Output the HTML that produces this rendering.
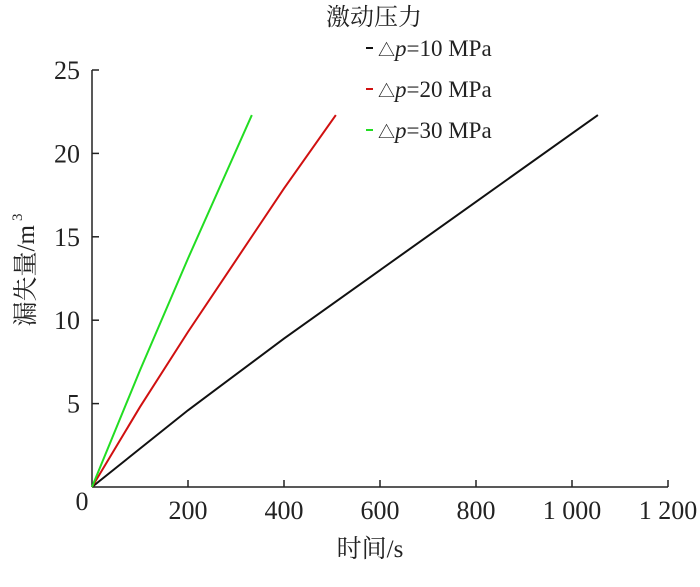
<!DOCTYPE html>
<html><head><meta charset="utf-8"><style>
body{margin:0;background:#fff}
svg text{font-family:"Liberation Serif","Noto Serif CJK SC",serif;fill:#222}
</style></head><body>
<svg id="c" width="700" height="582">
<g id="axes"></g>
<g id="series"></g>
<text x="370" y="557" font-size="25" text-anchor="middle">时间/s</text>
<text transform="translate(34,270) rotate(-90)" font-size="25" text-anchor="middle">漏失量/m<tspan dy="-12" dx="4" font-size="15">3</tspan></text>
<text x="326" y="25" font-size="24">激动压力</text>
<g id="legend"></g>
</svg>
<script>
const xTicks=[0,200,400,600,800,1000,1200];
const xTickLabels=["0","200","400","600","800","1 000","1 200"];
const yTicks=[0,5,10,15,20,25];
const seriesNames=["10","20","30"];
const seriesColors=["#111","#d01010","#22dd22"];
const t10=[0,200,400,600,800,1054];
const v10=[0,4.6,8.9,13.0,17.1,22.3];
const t20=[0,100,200,300,400,508];
const v20=[0,4.8,9.3,13.6,17.9,22.3];
const t30=[0,100,200,333];
const v30=[0,7.0,13.7,22.3];
const X=v=>92+v*(576/1200), Y=v=>487-v*(417/25);
const ns="http://www.w3.org/2000/svg";
function mk(tag,attrs,parent,txt){const e=document.createElementNS(ns,tag);for(const k in attrs)e.setAttribute(k,attrs[k]);if(txt!==undefined)e.textContent=txt;parent.appendChild(e);return e;}
const ax=document.getElementById('axes');
let e=mk('line',{x1:X(0),y1:Y(0),x2:X(1200),y2:Y(0),stroke:'#222','stroke-width':1.5},ax);

e=mk('line',{x1:X(0),y1:Y(0),x2:X(0),y2:Y(25),stroke:'#222','stroke-width':1.5},ax);

xTicks.forEach((v,i)=>{
 if(i>0){const t=mk('line',{x1:X(v),y1:Y(0),x2:X(v),y2:Y(0)-7,stroke:'#222','stroke-width':1.5},ax);
 }
 const l=mk('text',{x:i==0?X(v)-10:X(v),y:i==0?Y(0)+23:Y(0)+32,'font-size':26,'text-anchor':'middle'},ax,xTickLabels[i]);
 
});
yTicks.forEach(v=>{
 if(v>0){const t=mk('line',{x1:X(0),y1:Y(v),x2:X(0)+7,y2:Y(v),stroke:'#222','stroke-width':1.5},ax);
 
 const l=mk('text',{x:X(0)-12,y:Y(v)+9,'font-size':26,'text-anchor':'end'},ax,String(v));
 }
});
const sg=document.getElementById('series');
[[t10,v10],[t20,v20],[t30,v30]].forEach((d,i)=>{
 const p=mk('polyline',{points:d[0].map((t,j)=>X(t)+','+Y(d[1][j])).join(' '),fill:'none',stroke:seriesColors[i],'stroke-width':2},sg);
 
});
const lg=document.getElementById('legend');
seriesNames.forEach((n,i)=>{
 const y=48+i*41;
 const g=mk('g',{},lg);
 
 mk('line',{x1:366,y1:y,x2:373,y2:y,stroke:seriesColors[i],'stroke-width':2},g);
 const t=mk('text',{x:378,y:y+8,'font-size':23},g);
 t.innerHTML='<tspan font-size="17">△</tspan><tspan font-style="italic">p</tspan>='+n+' MPa';
});
</script>
</body></html>
